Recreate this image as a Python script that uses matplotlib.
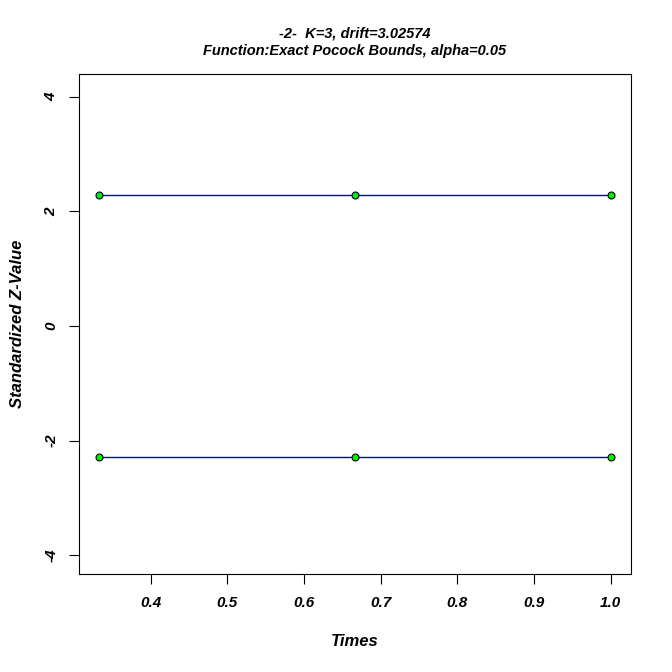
import matplotlib
matplotlib.use("Agg")
import matplotlib.pyplot as plt
import numpy as np

# Exact Pocock bounds, K=3, alpha=0.05
times = [1/3, 2/3, 1.0]
upper = [2.289, 2.289, 2.289]
lower = [-2.289, -2.289, -2.289]
xticks = [0.4, 0.5, 0.6, 0.7, 0.8, 0.9, 1.0]
yticks = [-4, -2, 0, 2, 4]

plt.rcParams['font.family'] = ['Liberation Sans', 'DejaVu Sans']

fig = plt.figure(figsize=(6.72, 6.72), dpi=100)
ax = fig.add_axes([79/672, 1 - 574/672, 552/672, 500/672])

for bound in (upper, lower):
    ax.plot(times, bound, color="#0000CC", lw=1, zorder=2)
    ax.plot(times, bound, "o", ms=5, mfc="#00EE00", mec="black", mew=0.8, zorder=3)

ax.set_xlim(1/3 - 0.02667, 1.02667)
ax.set_ylim(-4.33, 4.40)
ax.set_xticks(xticks)
ax.set_xticklabels(["%.1f" % v for v in xticks])
ax.set_yticks(yticks)
ax.set_yticklabels([str(v) for v in yticks], rotation=90, va="center")

for lab in ax.get_xticklabels() + ax.get_yticklabels():
    lab.set_fontweight("bold")
    lab.set_fontstyle("italic")
    lab.set_fontsize(11)

ax.tick_params(direction="out", length=7, width=0.8)
ax.tick_params(axis="x", pad=9)
ax.tick_params(axis="y", pad=8)
for sp in ax.spines.values():
    sp.set_linewidth(0.8)

ax.set_xlabel("Times", fontsize=12, fontweight="bold", fontstyle="italic", labelpad=17)
ax.set_ylabel("Standardized Z-Value", fontsize=12, fontweight="bold", fontstyle="italic", labelpad=14)
ax.set_title("-2-  K=3, drift=3.02574\nFunction:Exact Pocock Bounds, alpha=0.05",
             fontsize=10.5, fontweight="bold", fontstyle="italic", pad=14, linespacing=1.3)

fig.savefig("out.png", dpi=100)
